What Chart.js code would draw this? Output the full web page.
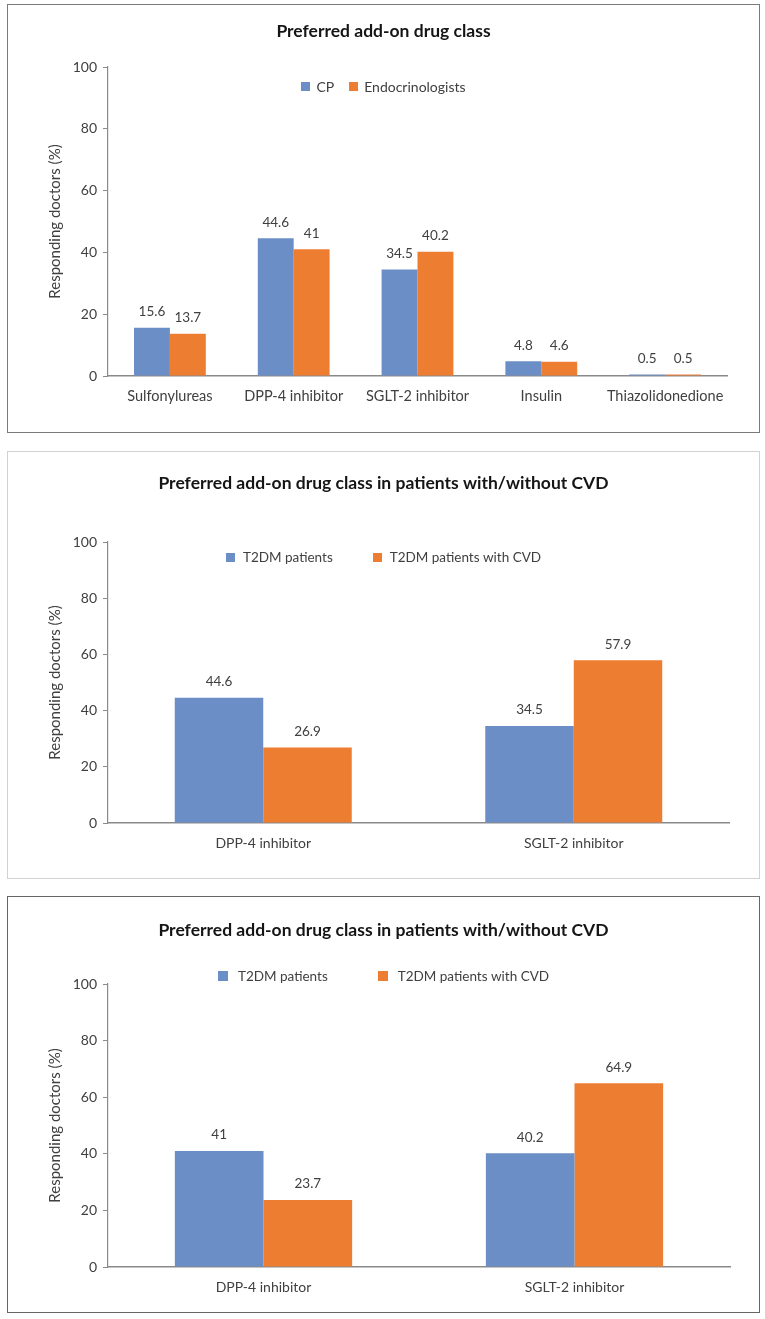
<!DOCTYPE html>
<html>
<head>
<meta charset="utf-8">
<script src="https://cdn.jsdelivr.net/npm/chart.js@4.4.1/dist/chart.umd.min.js"></script>
<style>
  html, body { margin: 0; padding: 0; background: #ffffff; }
  body { position: relative; width: 765px; height: 1319px; overflow: hidden; }
  canvas { position: absolute; }
  .frame { position: absolute; box-sizing: border-box; pointer-events: none; }
</style>
</head>
<body>
<canvas id="chartAll" width="753" height="429" style="left:7px;top:4px"></canvas>
<div class="frame" style="left:7px;top:4px;width:753px;height:429px;border:1.5px solid #7b7b7b"></div>

<canvas id="chartCP" width="753" height="428" style="left:7px;top:451px"></canvas>
<div class="frame" style="left:7px;top:451px;width:753px;height:428px;border:1px solid #d2d2d2"></div>

<canvas id="chartEndo" width="753" height="417" style="left:7px;top:896px"></canvas>
<div class="frame" style="left:7px;top:896px;width:753px;height:417px;border:1.5px solid #666666"></div>

<script>
// ---- data ----
const drugClasses = ['Sulfonylureas', 'DPP-4 inhibitor', 'SGLT-2 inhibitor', 'Insulin', 'Thiazolidonedione'];
const cpShares = [15.6, 44.6, 34.5, 4.8, 0.5];
const endocrinologistShares = [13.7, 41, 40.2, 4.6, 0.5];

const cvdClasses = ['DPP-4 inhibitor', 'SGLT-2 inhibitor'];
const cpT2dm = [44.6, 34.5];
const cpT2dmWithCvd = [26.9, 57.9];
const endoT2dm = [41, 40.2];
const endoT2dmWithCvd = [23.7, 64.9];

const percentTicks = [0, 20, 40, 60, 80, 100];

const titleAll = 'Preferred add-on drug class';
const titleCvd = 'Preferred add-on drug class in patients with/without CVD';
const yAxisTitle = 'Responding doctors (%)';

// ---- styling ----
const FONT = 'Lato, "Open Sans", sans-serif';
const BLUE = '#6a8ec5';
const ORANGE = '#ed7d31';
const TEXT = '#404040';
const AXIS = '#8a8a8a';

// value printed above each bar
const valueLabels = {
  id: 'valueLabels',
  afterDatasetsDraw(chart, args, opts) {
    const ctx = chart.ctx;
    ctx.save();
    ctx.font = opts.size + 'px ' + FONT;
    ctx.fillStyle = opts.color;
    ctx.textAlign = 'center';
    ctx.textBaseline = 'middle';
    chart.data.datasets.forEach((ds, i) => {
      chart.getDatasetMeta(i).data.forEach((bar, j) => {
        ctx.fillText(String(ds.data[j]), bar.x, bar.y - opts.gap);
      });
    });
    ctx.restore();
  }
};

// legend drawn inside the plot, centred on the canvas
const insideLegend = {
  id: 'insideLegend',
  afterDraw(chart, args, opts) {
    const ctx = chart.ctx;
    const items = chart.data.datasets.map(d => ({ text: d.label, color: d.backgroundColor }));
    ctx.save();
    ctx.font = opts.size + 'px ' + FONT;
    const widths = items.map(it => opts.box + opts.boxGap + ctx.measureText(it.text).width);
    const total = widths.reduce((a, b) => a + b, 0) + opts.itemGap * (items.length - 1);
    let x = chart.width / 2 - total / 2 + opts.dx;
    const y = chart.chartArea.top + opts.dy;
    ctx.textAlign = 'left';
    ctx.textBaseline = 'middle';
    items.forEach((it, i) => {
      ctx.fillStyle = it.color;
      ctx.fillRect(Math.round(x), Math.round(y - opts.box / 2), opts.box, opts.box);
      ctx.fillStyle = opts.color;
      ctx.fillText(it.text, x + opts.box + opts.boxGap, y + 1);
      x += widths[i] + opts.itemGap;
    });
    ctx.restore();
  }
};

function buildChart(canvasId, spec) {
  return new Chart(document.getElementById(canvasId), {
    type: 'bar',
    data: {
      labels: spec.categories,
      datasets: spec.series.map(s => ({
        label: s.label,
        data: s.values,
        backgroundColor: s.color,
        borderWidth: 0,
        categoryPercentage: spec.groupWidth,
        barPercentage: 1
      }))
    },
    plugins: [valueLabels, insideLegend],
    options: {
      responsive: false,
      animation: false,
      devicePixelRatio: 1,
      layout: { padding: 0 },
      plugins: {
        legend: { display: false },
        tooltip: { enabled: false },
        title: {
          display: true,
          text: spec.title,
          color: '#151515',
          font: { family: FONT, size: 17.5, weight: 'bold' },
          padding: { top: spec.titleTop, bottom: spec.titleBottom }
        },
        valueLabels: { size: 13.5, color: TEXT, gap: 16 },
        insideLegend: { size: spec.legendFont, color: TEXT, box: spec.legendBox, boxGap: spec.boxGap, itemGap: spec.itemGap, dx: 0, dy: spec.legendDy }
      },
      scales: {
        x: {
          grid: { display: false, drawTicks: false },
          border: { display: true, color: AXIS, width: 1.5 },
          ticks: { color: TEXT, font: { family: FONT, size: spec.xFont }, padding: 12, maxRotation: 0, autoSkip: false },
          afterFit(s) { s.height = spec.xHeight; }
        },
        y: {
          min: percentTicks[0],
          max: percentTicks[percentTicks.length - 1],
          afterBuildTicks(s) { s.ticks = percentTicks.map(v => ({ value: v })); },
          ticks: { color: TEXT, font: { family: FONT, size: 14 }, padding: 6 },
          grid: { display: true, drawOnChartArea: false, drawTicks: true, tickLength: 5, color: AXIS, lineWidth: 1 },
          border: { display: true, color: AXIS, width: 1.2 },
          title: {
            display: true,
            text: yAxisTitle,
            color: TEXT,
            font: { family: FONT, size: 15 },
            padding: { top: 39, bottom: 0 }
          },
          afterFit(s) { s.width = 101; }
        },
        // empty margin on the right of the plot, keeps the title centred on the panel
        rightMargin: {
          position: 'right',
          display: true,
          grid: { display: false, drawTicks: false },
          border: { display: false },
          ticks: { display: false },
          afterFit(s) { s.width = spec.padRight; }
        }
      }
    }
  });
}

buildChart('chartAll', {
  title: titleAll,
  categories: drugClasses,
  series: [
    { label: 'CP', values: cpShares, color: BLUE },
    { label: 'Endocrinologists', values: endocrinologistShares, color: ORANGE }
  ],
  groupWidth: 0.58,
  padRight: 33,
  titleTop: 16.5,
  titleBottom: 25.5,
  xHeight: 57,
  xFont: 14.5,
  legendFont: 14,
  legendBox: 9,
  legendDy: 19,
  boxGap: 6,
  itemGap: 15
});

buildChart('chartCP', {
  title: titleCvd,
  categories: cvdClasses,
  series: [
    { label: 'T2DM patients', values: cpT2dm, color: BLUE },
    { label: 'T2DM patients with CVD', values: cpT2dmWithCvd, color: ORANGE }
  ],
  groupWidth: 0.57,
  padRight: 31,
  titleTop: 21.5,
  titleBottom: 48.5,
  xHeight: 56,
  xFont: 14,
  legendFont: 13.5,
  legendBox: 9,
  legendDy: 15,
  boxGap: 8,
  itemGap: 40
});

buildChart('chartEndo', {
  title: titleCvd,
  categories: cvdClasses,
  series: [
    { label: 'T2DM patients', values: endoT2dm, color: BLUE },
    { label: 'T2DM patients with CVD', values: endoT2dmWithCvd, color: ORANGE }
  ],
  groupWidth: 0.57,
  padRight: 30,
  titleTop: 23.5,
  titleBottom: 43.5,
  xHeight: 46,
  xFont: 14,
  legendFont: 13.5,
  legendBox: 10,
  legendDy: -8,
  boxGap: 10,
  itemGap: 50
});
</script>
</body>
</html>
